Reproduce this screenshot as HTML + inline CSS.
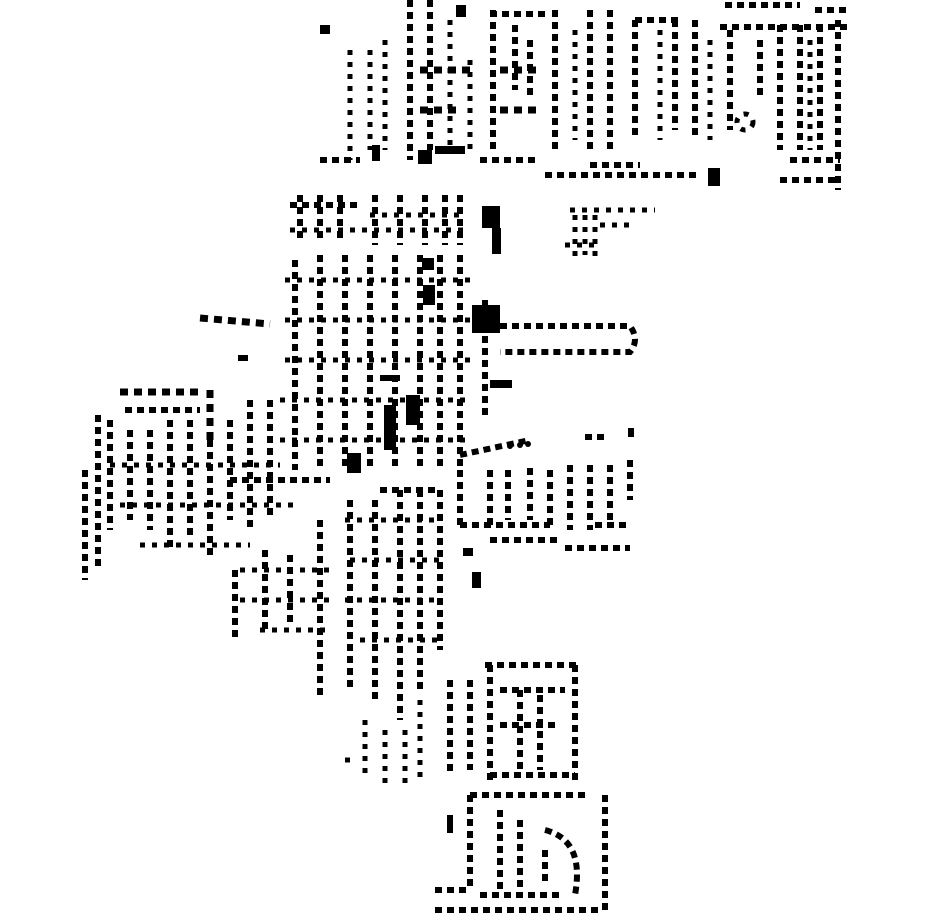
<!DOCTYPE html>
<html><head><meta charset="utf-8"><style>
html,body{margin:0;padding:0;background:#fff;width:930px;height:924px;overflow:hidden}
svg{display:block}
.d{fill:none;stroke:#000;stroke-width:6;stroke-dasharray:7 5}
.s{fill:none;stroke:#000;stroke-width:5;stroke-dasharray:5 7}
.t{fill:none;stroke:#000;stroke-width:7;stroke-dasharray:8 6}
</style></head><body>
<svg width="930" height="924" viewBox="0 0 930 924">
<path class="d" d="M410 0V160 M430 0V150 M493 10V150 M555 10V150 M590 10V150 M610 10V150 M635 20V140 M675 20V130 M695 20V135 M780 25V150 M820 25V150 M838 20V190 M800 25V150"/>
<path class="d" d="M490 14H550 M635 20H680 M725 5H800 M815 10H850 M720 27H850 M515 25V90 M530 40V100 M730 30V130 M760 40V100"/>
<path class="s" d="M350 50V160 M370 50V150 M385 40V150 M450 20V150 M470 60V150 M575 30V140 M660 30V140 M710 40V140 M810 40V150"/>
<path class="d" d="M320 160H360 M480 160H540 M545 175H700 M590 165H640 M780 180H840 M790 160H840"/>
<path class="t" d="M420 70H470 M420 110H460 M500 70H540 M500 110H540"/>
<circle cx="745" cy="122" r="8" class="s"/>
<rect x="320" y="25" width="10" height="9"/>
<rect x="418" y="150" width="14" height="14"/><rect x="435" y="146" width="30" height="8"/>
<rect x="372" y="145" width="8" height="16"/><rect x="708" y="168" width="12" height="18"/>
<rect x="456" y="5" width="10" height="12"/>
<path class="d" d="M290 205H360 M300 195V240 M320 195V240 M340 195V240 M375 195V245 M400 195V245 M425 195V245 M445 195V245 M460 195V245"/>
<path class="s" d="M290 230H465 M370 215H465"/>
<rect x="482" y="206" width="18" height="22"/><rect x="492" y="228" width="9" height="26"/>
<path class="s" d="M570 210H655 M575 215V260 M585 215V255 M595 215V262 M565 245H600 M600 225H630"/>
<path class="d" d="M295 260V470 M320 255V470 M345 255V470 M370 255V470 M395 255V470 M420 255V470 M440 255V470 M460 255V470 M485 300V420"/>
<path class="s" d="M285 280H470 M285 320H470 M285 360H470 M280 400H470 M280 440H470"/>
<rect x="423" y="285" width="12" height="20"/><rect x="406" y="395" width="14" height="30"/><rect x="384" y="405" width="12" height="45"/>
<rect x="347" y="453" width="14" height="20"/><rect x="490" y="380" width="22" height="8"/><rect x="380" y="375" width="20" height="6"/>
<rect x="472" y="305" width="28" height="28"/><rect x="422" y="258" width="12" height="12"/>
<path class="d" d="M500 326H630 Q640 340 630 352 H500"/>
<path class="t" d="M200 318L270 324 M120 392H200 M210 390V440"/>
<rect x="238" y="355" width="10" height="6"/>
<path class="d" d="M98 415V570 M85 470V580 M110 420V530 M125 410H200 M130 430V520 M150 430V530 M170 420V550 M190 420V540 M210 440V560 M230 420V520 M250 400V530 M270 400V520"/>
<path class="s" d="M110 465H280 M120 505H300 M140 545H250"/>
<path class="d" d="M460 455L530 440 M585 437H605"/>
<circle cx="510" cy="446" r="3"/><circle cx="520" cy="445" r="3"/><circle cx="528" cy="444" r="3"/>
<rect x="628" y="428" width="6" height="9"/>
<path class="d" d="M460 470V525 M490 470V525 M508 470V520 M530 468V520 M550 470V525 M570 465V530 M590 465V530 M610 465V525 M630 460V500"/>
<path class="d" d="M460 525H550 M490 540H560 M565 548H630 M595 525H630"/>
<rect x="463" y="548" width="10" height="8"/><rect x="472" y="572" width="9" height="16"/>
<path class="d" d="M235 570V640 M265 550V630 M290 555V625 M320 520V700 M350 500V690 M375 500V700 M400 490V720 M420 490V690 M440 490V650"/>
<path class="s" d="M240 570H330 M240 600H330 M260 630H330 M345 520H440 M350 560H440 M345 600H440 M360 640H440"/>
<path class="d" d="M380 490H440 M230 480H330"/>
<path class="s" d="M365 720V780 M385 730V790 M405 730V790 M420 700V780 M345 760L350 760"/>
<path class="d" d="M485 665H580 M450 680V775 M470 680V770 M490 665V780 M520 690V770 M540 695V770 M575 665V785 M500 690H565 M500 725H560 M490 775H575"/>
<path class="d" d="M470 795H590 M470 795V890 M500 810V890 M520 820V895 M605 795V915 M435 890H470 M435 910H600 M480 895H560"/>
<path class="d" d="M545 830Q585 840 575 895 M545 850V885"/>
<rect x="447" y="815" width="6" height="18"/>
</svg>
</body></html>
